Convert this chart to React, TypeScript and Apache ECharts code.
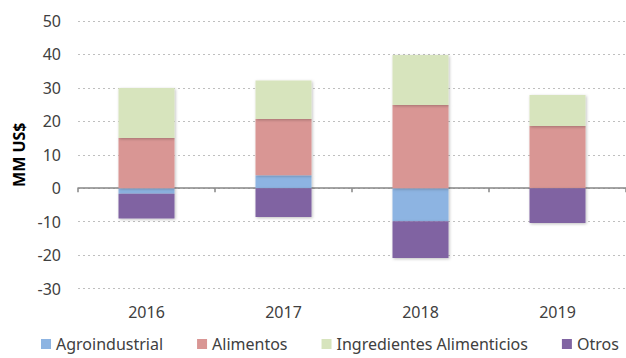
import React, { useEffect, useRef } from "react";
import * as echarts from "echarts";

const years = ["2016", "2017", "2018", "2019"];
const agroindustrial = [-1.7, 3.9, -9.9, 0];
const alimentos = [15.0, 16.8, 24.9, 18.6];
const ingredientes = [15.0, 11.5, 14.9, 9.3];
const otros = [-7.4, -8.6, -11.0, -10.4];
const yTicks = { min: -30, max: 50, interval: 10 };

const seriesNames = ["Agroindustrial", "Alimentos", "Ingredientes Alimenticios", "Otros"];
const seriesColors = ["#8DB4E2", "#D99694", "#D7E4BD", "#8064A2"];

const FONT = "'Noto Sans', sans-serif";

export default function App() {
  const ref = useRef<HTMLDivElement>(null);
  useEffect(() => {
    if (!ref.current) return;
    const chart = echarts.init(ref.current, undefined, { renderer: "svg" });
    const data = [agroindustrial, alimentos, ingredientes, otros];
    chart.setOption({
      animation: false,
      backgroundColor: "#ffffff",
      textStyle: { fontFamily: FONT },
      grid: { left: 78, top: 21, width: 550, height: 267.5 },
      legend: {
        left: 39,
        top: 333,
        itemWidth: 10,
        itemHeight: 10,
        itemGap: 34,
        icon: "rect",
        padding: 2,
        textStyle: { fontSize: 16, lineHeight: 18, color: "#404040", fontFamily: FONT },
        data: seriesNames,
      },
      xAxis: [
        {
          type: "category",
          data: years,
          position: "bottom",
          axisLine: { show: false, onZero: false },
          axisTick: { show: false },
          axisLabel: { fontSize: 16, color: "#404040", margin: 15, fontFamily: FONT },
        },
        {
          type: "category",
          data: years,
          position: "top",
          axisLine: { show: true, onZero: true, lineStyle: { color: "#868686", width: 1.5 } },
          axisTick: { show: true, inside: true, length: 4, lineStyle: { color: "#868686", width: 1.5 } },
          axisLabel: { show: false },
        },
      ],
      yAxis: {
        type: "value",
        min: yTicks.min,
        max: yTicks.max,
        interval: yTicks.interval,
        name: "MM US$",
        nameLocation: "middle",
        nameRotate: 90,
        nameGap: 51,
        nameTextStyle: { fontSize: 16, fontWeight: "bold", color: "#000000", fontFamily: FONT },
        axisLine: { show: false },
        axisTick: { show: false },
        axisLabel: { fontSize: 16, color: "#404040", margin: 17, fontFamily: FONT },
        splitLine: { lineStyle: { type: [2, 3], color: "#BFBFBF", width: 1 } },
      },
      series: seriesNames.map((name, i) => ({
        name,
        type: "bar",
        stack: "total",
        xAxisIndex: 0,
        barWidth: 56,
        data: data[i],
        itemStyle: {
          color: seriesColors[i],
          shadowBlur: 3,
          shadowColor: "rgba(0,0,0,0.25)",
          shadowOffsetX: 1,
          shadowOffsetY: 1,
        },
      })),
    });
    return () => chart.dispose();
  }, []);
  return (
    <div
      ref={ref}
      style={{ position: "fixed", left: 0, top: 0, width: 626, height: 358 }}
    />
  );
}
